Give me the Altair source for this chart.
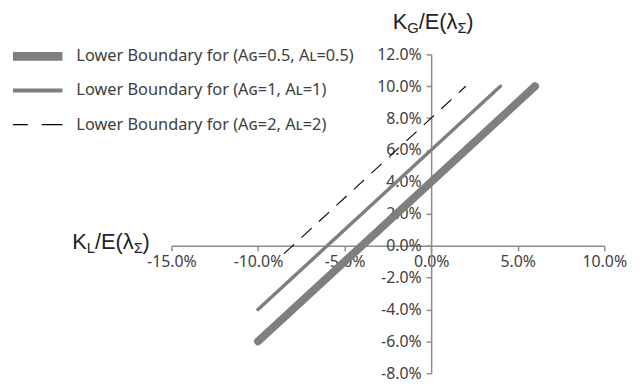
import altair as alt
import pandas as pd

# ---- data (percent units) ----
series_keys = ["A0.5", "A1", "A2"]
legend_labels = [
    "Lower Boundary for (Aɢ=0.5, Aʟ=0.5)",
    "Lower Boundary for (Aɢ=1, Aʟ=1)",
    "Lower Boundary for (Aɢ=2, Aʟ=2)",
]
x_start = [-10.0, -10.0, -8.5]
y_start = [-6.0, -4.0, -0.5]
x_end = [6.0, 4.0, 2.0]
y_end = [10.0, 10.0, 10.0]
x_ticks = [-15, -10, -5, 0, 5, 10]
y_ticks = [-8, -6, -4, -2, 0, 2, 4, 6, 8, 10, 12]

# ---- layout / styles ----
W, H = 437, 322
PAD_L, PAD_T = 165, 45
x0_px = W * 15 / 25          # pixel of x = 0
y0_px = H * 12 / 20          # pixel of y = 0

axis_gray = "#8c8c8c"
text_col = "#404040"
line_cols = ["#7f7f7f", "#7f7f7f", "#000000"]
widths = [8, 3.5, 1.1]
dashes = [None, None, [14, 10]]
leg_widths = [9, 4, 1.3]
leg_dashes = [None, None, [15, 14, 21]]

label_expr = "(datum.value < 0 ? '-' : '') + format(abs(datum.value), '.1f') + '%'"

common_axis = dict(
    grid=False, title=None, labelExpr=label_expr, domainColor=axis_gray,
    tickColor=axis_gray, domainWidth=1.5, tickWidth=1.5, tickSize=5,
    labelFont="Noto Sans", labelFontSize=16, labelColor=text_col,
    labelOverlap=False, labelFlush=False,
)

xenc = alt.X("x:Q", scale=alt.Scale(domain=[-15, 10], nice=False, zero=False),
             axis=alt.Axis(values=x_ticks, offset=-(H - y0_px), labelPadding=3, **common_axis))
yenc = alt.Y("y:Q", scale=alt.Scale(domain=[-8, 12], nice=False, zero=False),
             axis=alt.Axis(values=y_ticks, offset=-x0_px, labelPadding=5, **common_axis))

layers = []
LEG_Y0, LEG_DY = 2, 34.5
for i, k in enumerate(series_keys):
    d = pd.DataFrame({"x": [x_start[i], x_end[i]], "y": [y_start[i], y_end[i]]})
    mk = dict(color=line_cols[i], strokeWidth=widths[i], strokeCap="round")
    if dashes[i]:
        mk["strokeDash"] = dashes[i]
        mk["strokeCap"] = "butt"
    layers.append(alt.Chart(d).mark_line(**mk).encode(x=xenc, y=yenc))

    # legend symbol and label
    lk = dict(color=line_cols[i], strokeWidth=leg_widths[i], strokeCap="butt")
    if leg_dashes[i]:
        lk["strokeDash"] = leg_dashes[i]
    ly = LEG_Y0 + LEG_DY * i
    layers.append(
        alt.Chart(alt.Data(values=[{}])).mark_rule(**lk).encode(
            x=alt.value(13 - 173), x2=alt.value(63 - 173), y=alt.value(ly)
        )
    )
    layers.append(
        alt.Chart(alt.Data(values=[{}])).mark_text(
            text=legend_labels[i], align="left", baseline="middle",
            font="Noto Sans", fontSize=16.5, color=text_col
        ).encode(x=alt.value(77 - 173), y=alt.value(ly))
    )

# ---- axis titles with subscripts ----
CW = {"K": 0.667, "G": 0.778, "L": 0.556, "/": 0.278, "E": 0.667, "(": 0.333,
      ")": 0.333, "λ": 0.5, "Σ": 0.592}
BIG, SUB, SUBDY = 22, 15, 4


def title_layers(sub_letter, cx, base):
    segs = [("K", False), (sub_letter, True), ("/E(λ", False), ("Σ", True), (")", False)]
    total = sum(sum(CW[c] for c in t) * (SUB if s else BIG) for t, s in segs)
    x = cx - total / 2
    out = []
    for t, s in segs:
        size = SUB if s else BIG
        out.append(
            alt.Chart(alt.Data(values=[{}])).mark_text(
                text=t, align="left", baseline="alphabetic", font="Liberation Sans",
                fontSize=size, color="#222222"
            ).encode(x=alt.value(x), y=alt.value(base + (SUBDY if s else 0)))
        )
        x += sum(CW[c] for c in t) * size
    return out


titles = title_layers("G", x0_px + 2, 27 - 53) + title_layers("L", 112 - 173, y0_px + 3)

chart = alt.layer(*layers, *titles).properties(
    width=W, height=H,
    autosize=alt.AutoSizeParams(type="none"),
    padding={"left": PAD_L, "top": PAD_T, "right": 28, "bottom": 10},
).configure_view(stroke=None)

chart.save("out.html", embed_options={"renderer": "svg", "actions": False})
